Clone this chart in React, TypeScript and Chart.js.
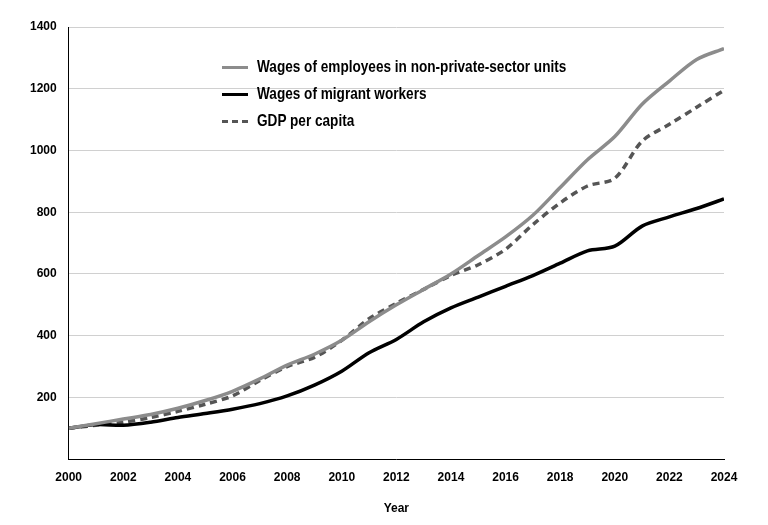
import React, { useEffect, useRef } from "react";
import { Chart, registerables } from "chart.js";
Chart.register(...registerables);

const years = Array.from({ length: 25 }, (_, i) => 2000 + i);
const nonPrivate = [100,115,130,145,165,190,220,260,305,340,385,445,500,550,600,660,720,790,880,970,1045,1150,1225,1295,1330];
const migrant = [100,112,110,120,135,148,162,180,205,240,285,345,388,445,490,525,560,595,635,675,690,755,785,812,843];
const gdp = [100,110,120,135,155,178,205,255,300,330,385,455,505,550,595,630,680,760,830,885,910,1030,1085,1140,1195];
const labels = ["Wages of employees in non-private-sector units","Wages of migrant workers","GDP per capita"];

const FONT = "'Liberation Sans', Arial, sans-serif";

export default function App() {
  const ref = useRef<HTMLCanvasElement>(null);
  useEffect(() => {
    const mk = (d: number[]) => years.map((y, i) => ({ x: y, y: d[i] }));
    const c = new Chart(ref.current!, {
      type: "line",
      data: {
        datasets: [
          { label: labels[0], data: mk(nonPrivate), borderColor: "#8c8c8c", borderWidth: 3.5, pointRadius: 0, tension: 0.3 },
          { label: labels[1], data: mk(migrant), borderColor: "#000", borderWidth: 3.5, pointRadius: 0, tension: 0.3 },
          { label: labels[2], data: mk(gdp), borderColor: "#555", borderWidth: 3.5, borderDash: [7, 5], pointRadius: 0, tension: 0.3 },
        ],
      },
      options: {
        animation: false,
        responsive: false,
        layout: { padding: { top: 27, right: 44, left: 18, bottom: 5 } },
        plugins: { legend: { display: false }, tooltip: { enabled: false } },
        scales: {
          x: {
            type: "linear", min: 2000, max: 2024,
            ticks: { stepSize: 2, color: "#000", font: { family: FONT, size: 12, weight: "bold" }, callback: (v: any) => String(v) },
            grid: { display: false, drawTicks: true },
            border: { color: "#000", width: 1 },
            title: { display: true, text: "Year", color: "#000", font: { family: FONT, size: 12, weight: "bold" }, padding: { top: 14 } },
          },
          y: {
            min: 0, max: 1400,
            ticks: { stepSize: 200, color: "#000", font: { family: FONT, size: 12, weight: "bold" }, callback: (v: any) => (v === 0 ? "" : String(v)), padding: 12 },
            grid: { color: "#d0d0d0", drawTicks: false },
            border: { color: "#000", width: 1 },
          },
        },
      },
    });
    return () => c.destroy();
  }, []);
  const leg = (i: number, color: string, dashed: boolean, top: number) => (
    <div style={{ position: "absolute", left: 222, top, display: "flex", alignItems: "center" }}>
      <div style={{ width: 26, borderTop: `3.5px ${dashed ? "dashed" : "solid"} ${color}`, marginRight: 9 }} />
      <span style={{ fontFamily: FONT, fontWeight: "bold", fontSize: 17, color: "#000", display: "inline-block", transform: "scaleX(0.8)", transformOrigin: "left center", whiteSpace: "nowrap" }}>{labels[i]}</span>
    </div>
  );
  return (
    <div style={{ position: "fixed", left: 0, top: 0, width: 768, height: 525, background: "#fff" }}>
      <canvas ref={ref} width={768} height={525} />
      {leg(0, "#8c8c8c", false, 57)}
      {leg(1, "#000", false, 84)}
      {leg(2, "#555", true, 111)}
    </div>
  );
}
